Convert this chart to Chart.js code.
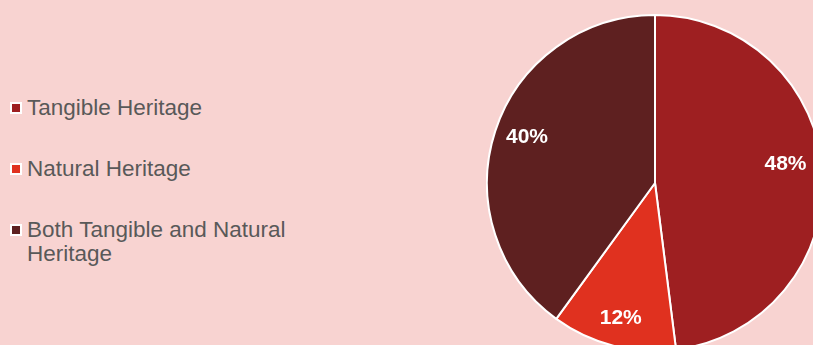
<!DOCTYPE html>
<html>
<head>
<meta charset="utf-8">
<script src="https://cdn.jsdelivr.net/npm/chart.js@4.4.1/dist/chart.umd.min.js"></script>
<style>
    html, body {
        margin: 0;
        padding: 0;
        width: 813px;
        height: 345px;
        overflow: hidden;
        background: #f8d3d1;
        font-family: "Liberation Sans", Arial, sans-serif;
    }
    #legend {
        position: absolute;
        left: 10px;
        top: 96px;
        margin: 0;
        padding: 0;
        list-style: none;
    }
    #legend li {
        display: flex;
        align-items: flex-start;
        margin-bottom: 37px;
        font-size: 22.5px;
        line-height: 24px;
        color: #595959;
    }
    #legend .box {
        width: 8px;
        height: 8px;
        border: 2px solid #ffffff;
        margin-top: 6px;
        margin-right: 5px;
        flex: none;
    }
    #legend .text {
        width: 285px;
    }
    #pieWrap {
        position: absolute;
        left: 486px;
        top: 14px;
        width: 338px;
        height: 338px;
    }
</style>
</head>
<body>
<ul id="legend"></ul>
<div id="pieWrap"><canvas id="pieChart"></canvas></div>
<script>
    // Heritage categories and their share (percent)
    const categories = ['Tangible Heritage', 'Natural Heritage', 'Both Tangible and Natural Heritage'];
    const shares = [48, 12, 40];
    const sliceColors = ['#9e1f21', '#e0311f', '#5e2020'];

    // Build the legend next to the pie
    const legendEl = document.getElementById('legend');
    categories.forEach((name, i) => {
        const li = document.createElement('li');
        const box = document.createElement('span');
        box.className = 'box';
        box.style.background = sliceColors[i];
        const text = document.createElement('span');
        text.className = 'text';
        text.textContent = name;
        li.appendChild(box);
        li.appendChild(text);
        legendEl.appendChild(li);
    });

    // Percent labels drawn inside each slice
    const sliceLabels = {
        id: 'sliceLabels',
        afterDatasetsDraw(chart, args, opts) {
            const ctx = chart.ctx;
            const meta = chart.getDatasetMeta(0);
            ctx.save();
            ctx.font = 'bold 21px "Liberation Sans", Arial, sans-serif';
            ctx.fillStyle = '#ffffff';
            ctx.textAlign = 'center';
            ctx.textBaseline = 'middle';
            meta.data.forEach((arc, i) => {
                const p = arc.getProps(['x', 'y', 'startAngle', 'endAngle', 'outerRadius'], true);
                const mid = (p.startAngle + p.endAngle) / 2;
                const r = p.outerRadius * opts.radius;
                const nudge = opts.nudge[i] || [0, 0];
                const x = p.x + Math.cos(mid) * r + nudge[0];
                const y = p.y + Math.sin(mid) * r + nudge[1];
                ctx.fillText(chart.data.datasets[0].data[i] + '%', x, y);
            });
            ctx.restore();
        }
    };

    new Chart(document.getElementById('pieChart'), {
        type: 'pie',
        data: {
            labels: categories,
            datasets: [{
                data: shares,
                backgroundColor: sliceColors,
                borderColor: '#ffffff',
                borderWidth: 2,
                hoverOffset: 0
            }]
        },
        options: {
            responsive: true,
            maintainAspectRatio: false,
            animation: false,
            layout: { padding: 0 },
            plugins: {
                legend: { display: false },
                tooltip: { enabled: false },
                sliceLabels: {
                    radius: 0.82,
                    // keep the first label clear of the window edge
                    nudge: [[-7, -10], [0, 2], [3, -3]]
                }
            }
        },
        plugins: [sliceLabels]
    });
</script>
</body>
</html>
